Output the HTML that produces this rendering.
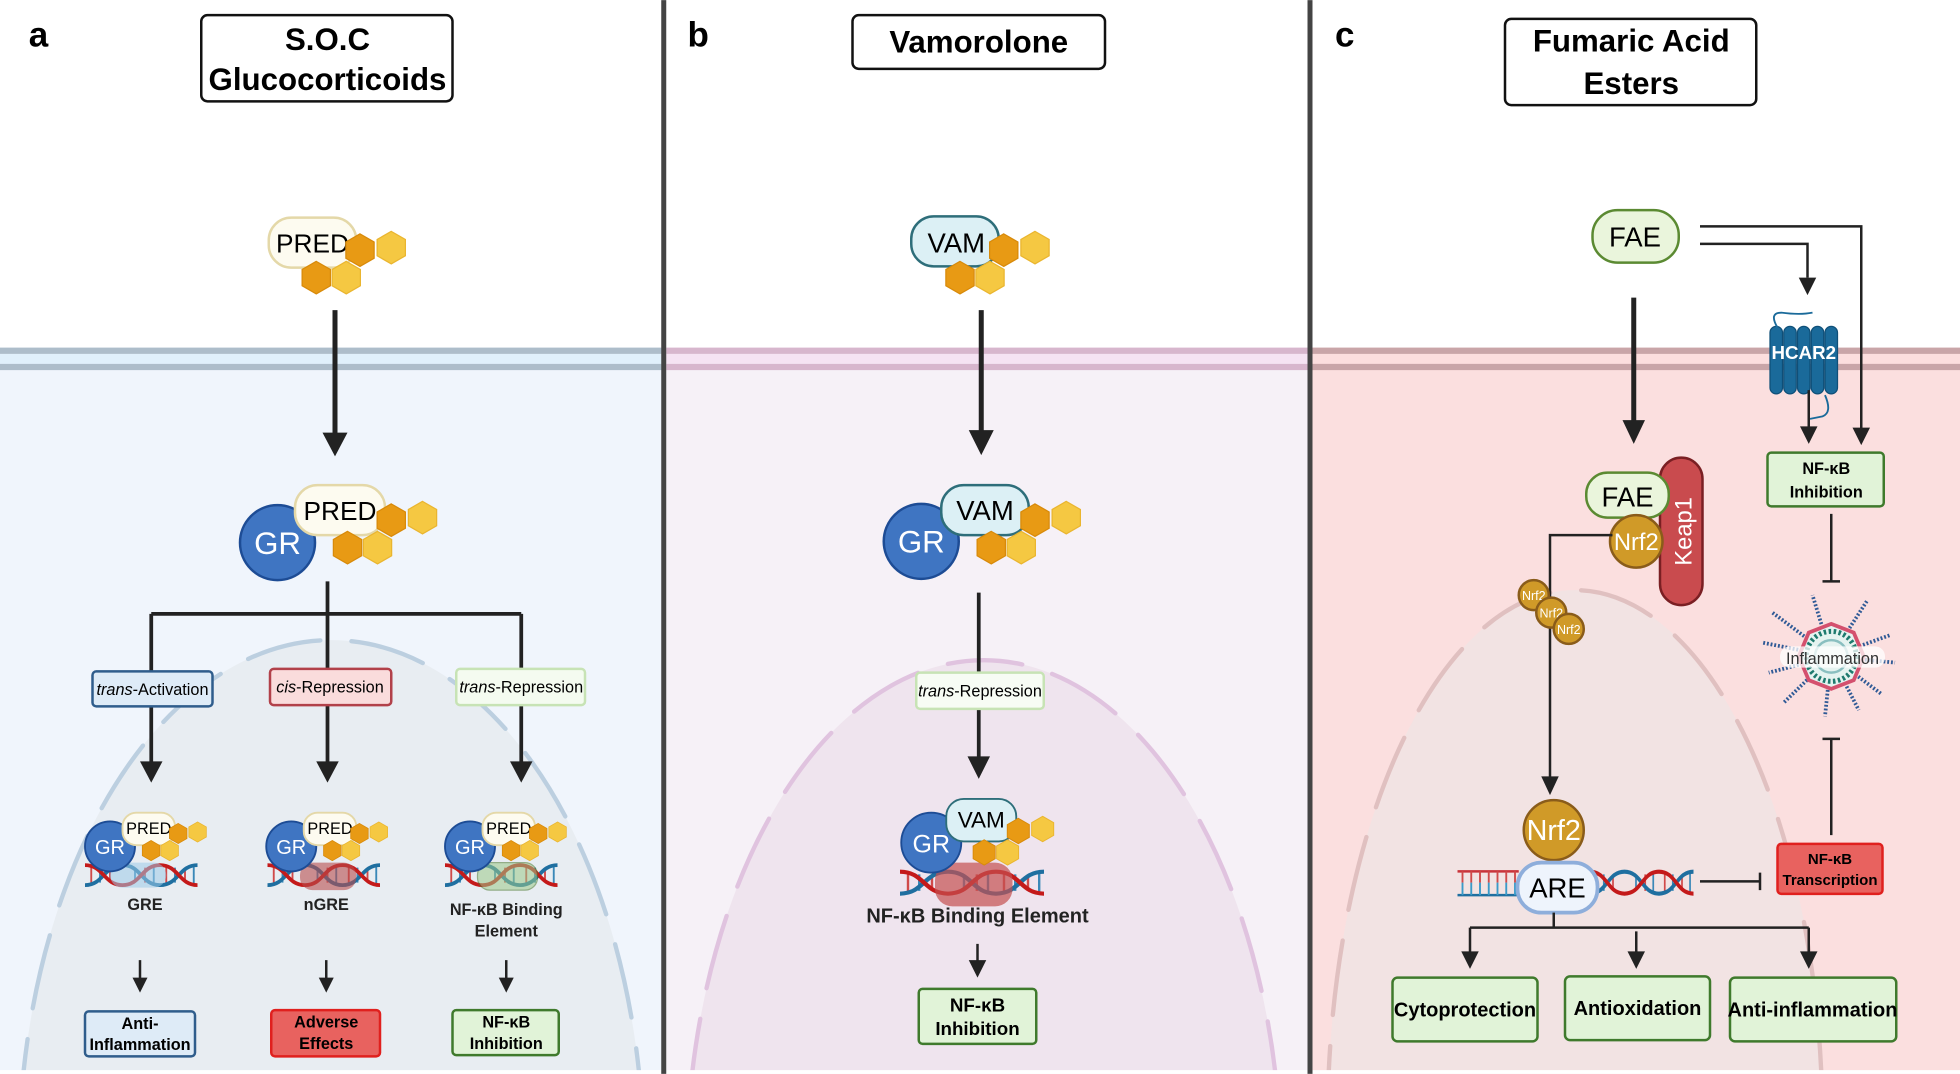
<!DOCTYPE html>
<html><head><meta charset="utf-8"><style>
html,body{margin:0;padding:0;background:#fff;width:1960px;height:1074px;overflow:hidden}
svg{display:block}
text{font-family:"Liberation Sans",sans-serif}
</style></head><body>
<svg width="1960" height="1074" viewBox="0 0 1568 859" xmlns="http://www.w3.org/2000/svg">
<defs>
<g id="hexs">
<polygon points="38,-7 49.3,-0.5 49.3,12.5 38,19 26.7,12.5 26.7,-0.5" fill="#e89a14" stroke="#d88a0a"/>
<polygon points="63,-9 74.3,-2.5 74.3,10.5 63,17 51.7,10.5 51.7,-2.5" fill="#f5c842" stroke="#eab52f"/>
<polygon points="3,15 14.3,21.5 14.3,34.5 3,41 -8.3,34.5 -8.3,21.5" fill="#e89a14" stroke="#d88a0a"/>
<polygon points="27,15 38.3,21.5 38.3,34.5 27,41 15.7,34.5 15.7,21.5" fill="#f5c842" stroke="#eab52f"/>
</g>
<g id="dna">
<g stroke-width="1.5">
<line x1="5" y1="-7" x2="5" y2="7" stroke="#d04a4a"/><line x1="12" y1="-6" x2="12" y2="6" stroke="#3a88b8"/>
<line x1="20" y1="-5" x2="20" y2="5" stroke="#d04a4a"/><line x1="40" y1="-5" x2="40" y2="5" stroke="#3a88b8"/>
<line x1="48" y1="-6" x2="48" y2="6" stroke="#d04a4a"/><line x1="55" y1="-7" x2="55" y2="7" stroke="#3a88b8"/>
<line x1="65" y1="-7" x2="65" y2="7" stroke="#d04a4a"/><line x1="72" y1="-6" x2="72" y2="6" stroke="#3a88b8"/>
<line x1="80" y1="-5" x2="80" y2="5" stroke="#d04a4a"/><line x1="87" y1="-7" x2="87" y2="7" stroke="#3a88b8"/>
</g>
<path d="M0,8 C15,8 15,-8 30,-8 C45,-8 45,8 60,8 C75,8 75,-8 90,-8" fill="none" stroke="#1f6fa0" stroke-width="3"/>
<path d="M0,-8 C15,-8 15,8 30,8 C45,8 45,-8 60,-8 C75,-8 75,8 90,8" fill="none" stroke="#c41a1a" stroke-width="3"/>
</g>
</defs>

<rect x="0" y="278" width="531" height="581" fill="#f0f5fc"/>
<rect x="0" y="283" width="531" height="8" fill="#e0f0fb"/>
<rect x="0" y="278" width="531" height="5" fill="#adbdca"/>
<rect x="0" y="291" width="531" height="5" fill="#adbdca"/>

<rect x="533" y="278" width="515" height="581" fill="#f6f1f7"/>
<rect x="533" y="283" width="515" height="8" fill="#f5e3f3"/>
<rect x="533" y="278" width="515" height="5" fill="#d7b6cd"/>
<rect x="533" y="291" width="515" height="5" fill="#d7b6cd"/>

<rect x="1050" y="278" width="518" height="581" fill="#fbdfdf"/>
<rect x="1050" y="283" width="518" height="8" fill="#fcdede"/>
<rect x="1050" y="278" width="518" height="5" fill="#c9a5a8"/>
<rect x="1050" y="291" width="518" height="5" fill="#c9a5a8"/>

<clipPath id="cl"><rect x="0" y="0" width="1568" height="857"/></clipPath>
<g clip-path="url(#cl)">
<ellipse cx="265" cy="930" rx="250" ry="418" fill="#e8edf2"/>
<ellipse cx="265" cy="930" rx="250" ry="418" fill="none" stroke="#bccfe0" stroke-width="3.5" stroke-dasharray="60 25" stroke-linecap="round"/>
<ellipse cx="787" cy="940" rx="238" ry="412" fill="#efe4ee"/>
<ellipse cx="787" cy="940" rx="238" ry="412" fill="none" stroke="#e0c3df" stroke-width="3.5" stroke-dasharray="60 25" stroke-linecap="round"/>
<ellipse cx="1260" cy="900" rx="198" ry="428" fill="#f2e3e3"/>
<ellipse cx="1260" cy="900" rx="198" ry="428" fill="none" stroke="#e0c0c0" stroke-width="3.5" stroke-dasharray="60 25" stroke-linecap="round"/>
</g>
<rect x="0" y="856" width="1568" height="3" fill="#fff"/>

<rect x="529" y="0" width="4" height="859" fill="#444"/>
<rect x="1046" y="0" width="4" height="859" fill="#444"/>

<!-- Panel a -->
<text x="23" y="37" font-size="28" font-weight="bold">a</text>
<rect x="161" y="12" width="201" height="69" rx="5" fill="#fff" stroke="#111" stroke-width="2"/>
<text x="262" y="40" font-size="25" font-weight="bold" text-anchor="middle">S.O.C</text>
<text x="262" y="72" font-size="25" font-weight="bold" text-anchor="middle">Glucocorticoids</text>

<rect x="215" y="174" width="70" height="40" rx="18" fill="#fdfbf0" stroke="#e4d8a8" stroke-width="2"/>
<text x="250" y="202" font-size="21" text-anchor="middle">PRED</text>
<use href="#hexs" x="250" y="194"/>

<line x1="268" y1="248" x2="268" y2="350" stroke="#222" stroke-width="4"/>
<polygon points="258,346 278,346 268,365" fill="#222"/>

<circle cx="222" cy="434" r="30" fill="#3f75c2" stroke="#1d4c95" stroke-width="2"/>
<text x="222" y="443" font-size="25" fill="#fff" text-anchor="middle">GR</text>
<rect x="236" y="388" width="72" height="40" rx="18" fill="#fdfbf0" stroke="#e4d8a8" stroke-width="2"/>
<text x="272" y="416" font-size="21" text-anchor="middle">PRED</text>
<use href="#hexs" x="275" y="410"/>

<path d="M262,465 V491 M121,491 H417 M121,491 V612 M262,491 V612 M417,491 V612" stroke="#222" stroke-width="3" fill="none"/>
<polygon points="112,609 130,609 121,626" fill="#222"/>
<polygon points="253,609 271,609 262,626" fill="#222"/>
<polygon points="408,609 426,609 417,626" fill="#222"/>
<rect x="74" y="537" width="96" height="28" rx="3" fill="#deebf7" stroke="#2f5d8c" stroke-width="2"/>
<text x="122" y="556" font-size="13" text-anchor="middle"><tspan font-style="italic">trans</tspan>-Activation</text>
<rect x="216" y="535" width="97" height="29" rx="3" fill="#fadcdc" stroke="#b2414a" stroke-width="2"/>
<text x="264" y="554" font-size="13" text-anchor="middle"><tspan font-style="italic">cis</tspan>-Repression</text>
<rect x="365" y="535" width="103" height="29" rx="3" fill="#f4fbf0" stroke="#c7e3b5" stroke-width="2"/>
<text x="417" y="554" font-size="13" text-anchor="middle"><tspan font-style="italic">trans</tspan>-Repression</text>

<use href="#dna" x="68" y="700"/>
<rect x="88" y="690" width="45" height="20" rx="10" fill="#9ccbe8" opacity="0.55"/>
<circle cx="88" cy="677" r="20" fill="#3f75c2" stroke="#1d4c95" stroke-width="1.5"/>
<text x="88" y="683" font-size="16" fill="#fff" text-anchor="middle">GR</text>
<rect x="98" y="650" width="42" height="26" rx="11" fill="#fdfbf0" stroke="#e4d8a8" stroke-width="1.5"/>
<text x="119" y="667" font-size="13" text-anchor="middle">PRED</text>
<g transform="translate(119,663) scale(0.62)"><use href="#hexs"/></g>
<text x="116" y="728" font-size="13" font-weight="bold" text-anchor="middle" fill="#222">GRE</text>

<use href="#dna" x="214" y="700"/>
<rect x="240" y="690" width="45" height="22" rx="10" fill="#b84c4c" opacity="0.6"/>
<circle cx="233" cy="677" r="20" fill="#3f75c2" stroke="#1d4c95" stroke-width="1.5"/>
<text x="233" y="683" font-size="16" fill="#fff" text-anchor="middle">GR</text>
<rect x="243" y="650" width="42" height="26" rx="11" fill="#fdfbf0" stroke="#e4d8a8" stroke-width="1.5"/>
<text x="264" y="667" font-size="13" text-anchor="middle">PRED</text>
<g transform="translate(264,663) scale(0.62)"><use href="#hexs"/></g>
<text x="261" y="728" font-size="13" font-weight="bold" text-anchor="middle" fill="#222">nGRE</text>

<use href="#dna" x="356" y="700"/>
<rect x="382" y="690" width="48" height="22" rx="10" fill="#9cc98a" opacity="0.55" stroke="#4d7a30"/>
<circle cx="376" cy="677" r="20" fill="#3f75c2" stroke="#1d4c95" stroke-width="1.5"/>
<text x="376" y="683" font-size="16" fill="#fff" text-anchor="middle">GR</text>
<rect x="386" y="650" width="42" height="26" rx="11" fill="#fdfbf0" stroke="#e4d8a8" stroke-width="1.5"/>
<text x="407" y="667" font-size="13" text-anchor="middle">PRED</text>
<g transform="translate(407,663) scale(0.62)"><use href="#hexs"/></g>
<text x="405" y="732" font-size="13" font-weight="bold" text-anchor="middle" fill="#222">NF-κB Binding</text>
<text x="405" y="749" font-size="13" font-weight="bold" text-anchor="middle" fill="#222">Element</text>

<path d="M112,768 V784 M261,768 V784 M405,768 V784" stroke="#222" stroke-width="2"/>
<polygon points="106,782 118,782 112,794" fill="#222"/>
<polygon points="255,782 267,782 261,794" fill="#222"/>
<polygon points="399,782 411,782 405,794" fill="#222"/>
<rect x="68" y="809" width="88" height="36" rx="3" fill="#deebf7" stroke="#2f5d8c" stroke-width="2"/>
<text x="112" y="823" font-size="13" font-weight="bold" text-anchor="middle">Anti-</text>
<text x="112" y="840" font-size="13" font-weight="bold" text-anchor="middle">Inflammation</text>
<rect x="217" y="808" width="87" height="37" rx="3" fill="#e8625f" stroke="#e0201e" stroke-width="2"/>
<text x="261" y="822" font-size="13" font-weight="bold" text-anchor="middle">Adverse</text>
<text x="261" y="839" font-size="13" font-weight="bold" text-anchor="middle">Effects</text>
<rect x="362" y="808" width="85" height="36" rx="3" fill="#e1f3d8" stroke="#3f7a2c" stroke-width="2"/>
<text x="405" y="822" font-size="13" font-weight="bold" text-anchor="middle">NF-κB</text>
<text x="405" y="839" font-size="13" font-weight="bold" text-anchor="middle">Inhibition</text>

<!-- Panel b -->
<text x="550" y="37" font-size="28" font-weight="bold">b</text>
<rect x="682" y="12" width="202" height="43" rx="5" fill="#fff" stroke="#111" stroke-width="2"/>
<text x="783" y="42" font-size="25" font-weight="bold" text-anchor="middle">Vamorolone</text>

<rect x="729" y="173" width="70" height="40" rx="18" fill="#dcf0f5" stroke="#2e6e7a" stroke-width="2"/>
<text x="765" y="202" font-size="22" text-anchor="middle">VAM</text>
<use href="#hexs" x="765" y="194"/>

<line x1="785" y1="248" x2="785" y2="348" stroke="#222" stroke-width="4"/>
<polygon points="775,344 795,344 785,364" fill="#222"/>

<circle cx="737" cy="433" r="30" fill="#3f75c2" stroke="#1d4c95" stroke-width="2"/>
<text x="737" y="442" font-size="25" fill="#fff" text-anchor="middle">GR</text>
<rect x="753" y="388" width="70" height="40" rx="18" fill="#dcf0f5" stroke="#2e6e7a" stroke-width="2"/>
<text x="788" y="416" font-size="22" text-anchor="middle">VAM</text>
<use href="#hexs" x="790" y="410"/>

<path d="M783,474 V540 M783,567 V608" stroke="#222" stroke-width="3"/>
<polygon points="774,605 792,605 783,623" fill="#222"/>
<rect x="733" y="538" width="102" height="29" rx="3" fill="#f7fcf4" stroke="#c7e3b5" stroke-width="2"/>
<text x="784" y="557" font-size="13" text-anchor="middle"><tspan font-style="italic">trans</tspan>-Repression</text>

<g transform="translate(720,706) scale(1.28,1.1)"><use href="#dna"/></g>
<rect x="748" y="690" width="62" height="35" rx="14" fill="#c45050" opacity="0.7"/>
<circle cx="745" cy="674" r="24" fill="#3f75c2" stroke="#1d4c95" stroke-width="1.5"/>
<text x="745" y="682" font-size="20" fill="#fff" text-anchor="middle">GR</text>
<rect x="757" y="639" width="56" height="34" rx="14" fill="#dcf0f5" stroke="#2e6e7a" stroke-width="1.5"/>
<text x="785" y="662" font-size="18" text-anchor="middle">VAM</text>
<g transform="translate(785,660) scale(0.78)"><use href="#hexs"/></g>
<text x="782" y="738" font-size="16" font-weight="bold" text-anchor="middle" fill="#222">NF-κB Binding Element</text>

<line x1="782" y1="755" x2="782" y2="770" stroke="#222" stroke-width="2"/>
<polygon points="775,768 789,768 782,782" fill="#222"/>
<rect x="735" y="791" width="94" height="44" rx="3" fill="#e1f3d8" stroke="#3f7a2c" stroke-width="2"/>
<text x="782" y="809" font-size="15" font-weight="bold" text-anchor="middle">NF-κB</text>
<text x="782" y="828" font-size="15" font-weight="bold" text-anchor="middle">Inhibition</text>

<!-- Panel c -->
<text x="1068" y="37" font-size="28" font-weight="bold">c</text>
<rect x="1204" y="15" width="201" height="69" rx="5" fill="#fff" stroke="#111" stroke-width="2"/>
<text x="1305" y="41" font-size="25" font-weight="bold" text-anchor="middle">Fumaric Acid</text>
<text x="1305" y="75" font-size="25" font-weight="bold" text-anchor="middle">Esters</text>

<rect x="1274" y="168" width="69" height="42" rx="20" fill="#eaf5dc" stroke="#5b8a32" stroke-width="2"/>
<text x="1308" y="197" font-size="22" text-anchor="middle">FAE</text>

<path d="M1360,181 H1489 V348 M1360,195 H1446 V222" stroke="#222" stroke-width="2" fill="none"/>
<polygon points="1439,222 1453,222 1446,236" fill="#222"/>
<polygon points="1482,342 1496,342 1489,356" fill="#222"/>

<line x1="1307" y1="238" x2="1307" y2="340" stroke="#222" stroke-width="4"/>
<polygon points="1298,336 1316,336 1307,355" fill="#222"/>

<g fill="#1a6a9a" stroke="#0f4f78">
<rect x="1416" y="261" width="10" height="54" rx="5"/>
<rect x="1427" y="261" width="10" height="54" rx="5"/>
<rect x="1438" y="261" width="10" height="54" rx="5"/>
<rect x="1449" y="261" width="10" height="54" rx="5"/>
<rect x="1460" y="261" width="10" height="54" rx="5"/>
</g>
<path d="M1422,262 Q1415,250 1425,250 Q1440,252 1450,250 M1460,316 Q1466,330 1458,333 L1448,335" stroke="#1a6a9a" stroke-width="1.5" fill="none"/>
<text x="1443" y="287" font-size="15" font-weight="bold" fill="#fff" text-anchor="middle">HCAR2</text>

<line x1="1447" y1="312" x2="1447" y2="342" stroke="#222" stroke-width="2"/>
<polygon points="1440,341 1454,341 1447,355" fill="#222"/>
<rect x="1414" y="362" width="93" height="43" rx="3" fill="#e1f3d8" stroke="#3f7a2c" stroke-width="2"/>
<text x="1461" y="379" font-size="13" font-weight="bold" text-anchor="middle">NF-κB</text>
<text x="1461" y="398" font-size="13" font-weight="bold" text-anchor="middle">Inhibition</text>

<path d="M1465,411 V465 M1458,465 H1472" stroke="#222" stroke-width="2"/>

<g stroke="#2f5a96" stroke-width="3" stroke-dasharray="1.5 1.5">
<line x1="1465" y1="525" x2="1418" y2="490"/>
<line x1="1465" y1="525" x2="1450" y2="476"/>
<line x1="1465" y1="525" x2="1494" y2="480"/>
<line x1="1465" y1="525" x2="1512" y2="508"/>
<line x1="1465" y1="525" x2="1516" y2="530"/>
<line x1="1465" y1="525" x2="1505" y2="555"/>
<line x1="1465" y1="525" x2="1487" y2="568"/>
<line x1="1465" y1="525" x2="1460" y2="573"/>
<line x1="1465" y1="525" x2="1427" y2="562"/>
<line x1="1465" y1="525" x2="1415" y2="538"/>
<line x1="1465" y1="525" x2="1410" y2="514"/>
</g>
<polygon points="1465,499 1483,506 1491,525 1483,544 1465,551 1447,544 1439,525 1447,506" fill="#e5f3f0" stroke="#d4506e" stroke-width="3"/>
<circle cx="1465" cy="525" r="20" fill="none" stroke="#1e7a6e" stroke-width="4" stroke-dasharray="2 2"/>
<circle cx="1465" cy="525" r="13" fill="none" stroke="#8abfc0" stroke-width="2"/>
<rect x="1424" y="517" width="84" height="17" rx="8" fill="#fff" opacity="0.75"/>
<text x="1466" y="531" font-size="13" text-anchor="middle" fill="#333">Inflammation</text>

<path d="M1465,668 V591 M1458,591 H1472" stroke="#222" stroke-width="2"/>
<rect x="1422" y="675" width="84" height="40" rx="3" fill="#e8625f" stroke="#e0201e" stroke-width="2"/>
<text x="1464" y="691" font-size="12" font-weight="bold" text-anchor="middle">NF-κB</text>
<text x="1464" y="708" font-size="12" font-weight="bold" text-anchor="middle">Transcription</text>

<path d="M1360,705 H1408 M1408,698 V712" stroke="#222" stroke-width="2"/>

<rect x="1328" y="366" width="34" height="118" rx="17" fill="#c94b4e" stroke="#7a1f23" stroke-width="2"/>
<text x="1353" y="425" font-size="19" fill="#fff" text-anchor="middle" transform="rotate(-90 1353 425)">Keap1</text>
<rect x="1269" y="378" width="66" height="36" rx="17" fill="#eaf5dc" stroke="#5b8a32" stroke-width="2"/>
<text x="1302" y="405" font-size="22" text-anchor="middle">FAE</text>
<circle cx="1309" cy="433" r="21" fill="#d09a28" stroke="#8a5c1a" stroke-width="2"/>
<text x="1309" y="440" font-size="19" fill="#fff" text-anchor="middle">Nrf2</text>

<path d="M1290,428 H1240 V622" stroke="#222" stroke-width="2" fill="none"/>
<polygon points="1233,621 1247,621 1240,636" fill="#222"/>
<circle cx="1227" cy="476" r="12" fill="#d09a28" stroke="#8a5c1a" stroke-width="2"/>
<text x="1227" y="480" font-size="10" fill="#fff" text-anchor="middle">Nrf2</text>
<circle cx="1241" cy="490" r="12" fill="#d09a28" stroke="#8a5c1a" stroke-width="2"/>
<text x="1241" y="494" font-size="10" fill="#fff" text-anchor="middle">Nrf2</text>
<circle cx="1255" cy="503" r="12" fill="#d09a28" stroke="#8a5c1a" stroke-width="2"/>
<text x="1255" y="507" font-size="10" fill="#fff" text-anchor="middle">Nrf2</text>

<g stroke-width="2">
<line x1="1166" y1="697" x2="1215" y2="697" stroke="#c9333a"/>
<line x1="1166" y1="716" x2="1215" y2="716" stroke="#1f6fa0"/>
</g>
<g stroke-width="1.5">
<path d="M1170,697 V706 M1177,697 V706 M1184,697 V706 M1191,697 V706 M1198,697 V706 M1205,697 V706 M1212,697 V706" stroke="#d04a4a"/>
<path d="M1170,706 V716 M1177,706 V716 M1184,706 V716 M1191,706 V716 M1198,706 V716 M1205,706 V716 M1212,706 V716" stroke="#3a9ac8"/>
</g>
<g transform="translate(1272,706) scale(0.92,1.1)"><use href="#dna"/></g>
<circle cx="1243" cy="664" r="24" fill="#d09a28" stroke="#8a5c1a" stroke-width="2"/>
<text x="1243" y="672" font-size="23" fill="#fff" text-anchor="middle">Nrf2</text>
<rect x="1214" y="690" width="64" height="40" rx="19" fill="#eef4fc" stroke="#8eaedb" stroke-width="3"/>
<text x="1246" y="718" font-size="22" text-anchor="middle">ARE</text>

<path d="M1243,730 V742 M1176,742 H1447 M1176,742 V762 M1309,745 V762 M1447,742 V762" stroke="#222" stroke-width="2" fill="none"/>
<polygon points="1169,761 1183,761 1176,775" fill="#222"/>
<polygon points="1302,761 1316,761 1309,775" fill="#222"/>
<polygon points="1440,761 1454,761 1447,775" fill="#222"/>
<rect x="1114" y="782" width="116" height="51" rx="4" fill="#e1f3d8" stroke="#3f7a2c" stroke-width="2"/>
<text x="1172" y="813" font-size="16" font-weight="bold" text-anchor="middle">Cytoprotection</text>
<rect x="1252" y="781" width="116" height="51" rx="4" fill="#e1f3d8" stroke="#3f7a2c" stroke-width="2"/>
<text x="1310" y="812" font-size="16" font-weight="bold" text-anchor="middle">Antioxidation</text>
<rect x="1384" y="782" width="133" height="51" rx="4" fill="#e1f3d8" stroke="#3f7a2c" stroke-width="2"/>
<text x="1450" y="813" font-size="16" font-weight="bold" text-anchor="middle">Anti-inflammation</text>
</svg>
</body></html>
